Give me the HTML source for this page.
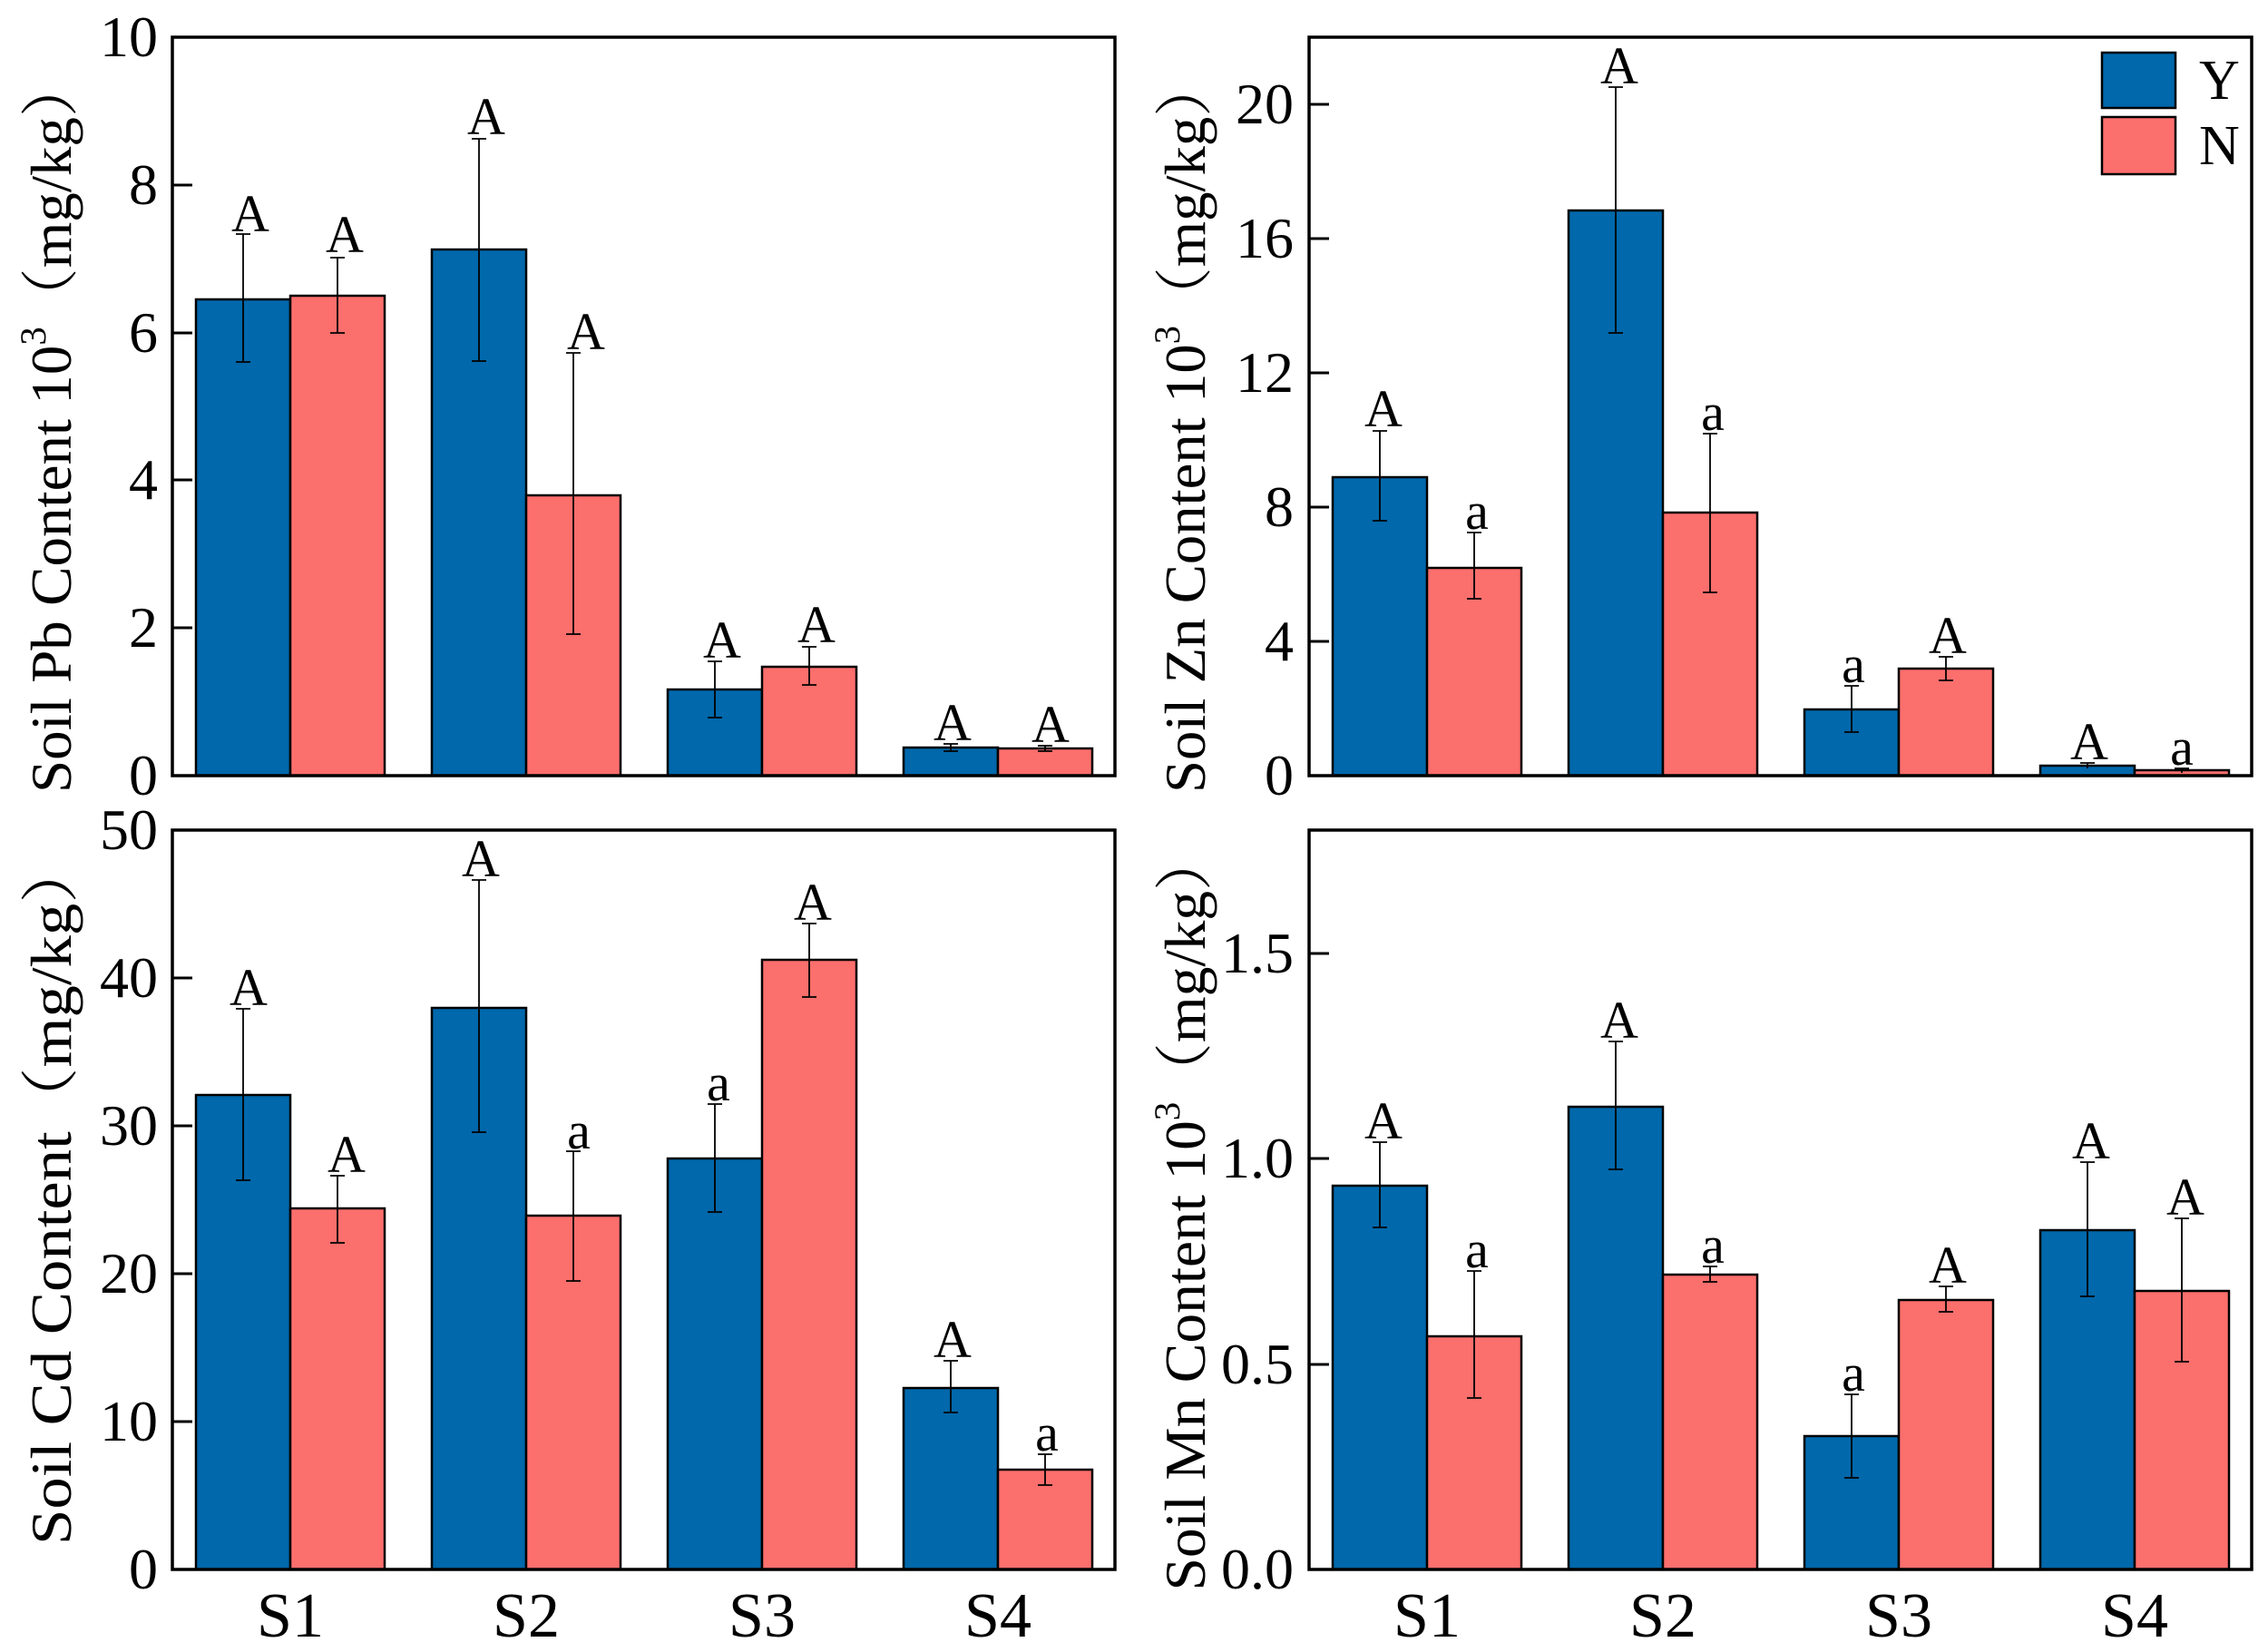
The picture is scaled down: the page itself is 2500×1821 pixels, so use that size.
<!DOCTYPE html>
<html><head><meta charset="utf-8"><style>
html,body{margin:0;padding:0;background:#fff}
svg{display:block}
text{font-family:"Liberation Serif","Noto Serif CJK SC",serif;fill:#000}
.b{fill:#0068AB;stroke:#000;stroke-width:2.5}
.r{fill:#FB6F6D;stroke:#000;stroke-width:2.5}
.e{stroke:#000;stroke-width:1.8;fill:none}
.ax{fill:none;stroke:#000;stroke-width:3.5}
.tk{stroke:#000;stroke-width:3}
.t{font-size:64px;text-anchor:end}
.l{font-size:58px;text-anchor:middle}
.x{font-size:70px;text-anchor:middle}
.yt{font-size:64px;text-anchor:middle}
</style></head><body>
<svg width="2500" height="1821" viewBox="0 0 2500 1821" xmlns="http://www.w3.org/2000/svg">
<!-- ===== TL Pb ===== -->
<g>
<rect class="b" x="216" y="330" width="104" height="525"/><rect class="r" x="320" y="326" width="104" height="529"/>
<rect class="b" x="476" y="275" width="104" height="580"/><rect class="r" x="580" y="546" width="104" height="309"/>
<rect class="b" x="736" y="760" width="104" height="95"/><rect class="r" x="840" y="735" width="104" height="120"/>
<rect class="b" x="996" y="824" width="104" height="31"/><rect class="r" x="1100" y="825" width="104" height="30"/>
<path class="e" d="M268 258V399M260 258H276M260 399H276 M372 284V367M364 284H380M364 367H380 M528 153V398M520 153H536M520 398H536 M632 389V699M624 389H640M624 699H640 M788 729V791M780 729H796M780 791H796 M892 713V755M884 713H900M884 755H900 M1048 820V828M1040 820H1056M1040 828H1056 M1152 822V828M1144 822H1160M1144 828H1160"/>
<text class="l" x="276" y="255">A</text><text class="l" x="380" y="278">A</text>
<text class="l" x="536" y="148">A</text><text class="l" x="646" y="385">A</text>
<text class="l" x="796" y="725">A</text><text class="l" x="900" y="708">A</text>
<text class="l" x="1050" y="816">A</text><text class="l" x="1158" y="818">A</text>
<rect class="ax" x="190" y="41" width="1039" height="814"/>
<path class="tk" d="M190 692H212M190 529H212M190 367H212M190 204H212"/>
<text class="t" x="174" y="876">0</text><text class="t" x="174" y="713">2</text><text class="t" x="174" y="550">4</text><text class="t" x="174" y="388">6</text><text class="t" x="174" y="225">8</text><text class="t" x="174" y="62">10</text>
<text class="yt" transform="translate(78,469) rotate(-90)" textLength="810" lengthAdjust="spacingAndGlyphs">Soil Pb Content 10<tspan font-size="40" dy="-28">3</tspan><tspan dy="28">（mg/kg）</tspan></text>
</g>
<!-- ===== TR Zn ===== -->
<g>
<rect class="b" x="1469" y="526" width="104" height="329"/><rect class="r" x="1573" y="626" width="104" height="229"/>
<rect class="b" x="1729" y="232" width="104" height="623"/><rect class="r" x="1833" y="565" width="104" height="290"/>
<rect class="b" x="1989" y="782" width="104" height="73"/><rect class="r" x="2093" y="737" width="104" height="118"/>
<rect class="b" x="2249" y="844" width="104" height="11"/><rect class="r" x="2353" y="849" width="104" height="6"/>
<path class="e" d="M1521 475V574M1513 475H1529M1513 574H1529 M1625 587V660M1617 587H1633M1617 660H1633 M1781 96V367M1773 96H1789M1773 367H1789 M1885 478V653M1877 478H1893M1877 653H1893 M2041 756V807M2033 756H2049M2033 807H2049 M2145 724V750M2137 724H2153M2137 750H2153 M2301 841V847M2293 841H2309 M2405 847V852M2397 847H2413"/>
<text class="l" x="1525" y="470">A</text><text class="l" x="1628" y="583">a</text>
<text class="l" x="1785" y="92">A</text><text class="l" x="1888" y="474">a</text>
<text class="l" x="2043" y="752">a</text><text class="l" x="2147" y="720">A</text>
<text class="l" x="2303" y="837">A</text><text class="l" x="2405" y="843">a</text>
<rect class="ax" x="1443" y="41" width="1039" height="814"/>
<path class="tk" d="M1443 707H1465M1443 559H1465M1443 411H1465M1443 263H1465M1443 115H1465"/>
<text class="t" x="1426" y="876">0</text><text class="t" x="1426" y="728">4</text><text class="t" x="1426" y="580">8</text><text class="t" x="1426" y="432">12</text><text class="t" x="1426" y="284">16</text><text class="t" x="1426" y="136">20</text>
<rect class="b" x="2317" y="58" width="81" height="61"/><rect class="r" x="2317" y="129" width="81" height="63"/>
<text x="2424" y="109" font-size="62">Y</text><text x="2424" y="181" font-size="62">N</text>
<text class="yt" transform="translate(1328,469) rotate(-90)" textLength="810" lengthAdjust="spacingAndGlyphs">Soil Zn Content 10<tspan font-size="40" dy="-28">3</tspan><tspan dy="28">（mg/kg）</tspan></text>
</g>
<!-- ===== BL Cd ===== -->
<g>
<rect class="b" x="216" y="1207" width="104" height="523"/><rect class="r" x="320" y="1332" width="104" height="398"/>
<rect class="b" x="476" y="1111" width="104" height="619"/><rect class="r" x="580" y="1340" width="104" height="390"/>
<rect class="b" x="736" y="1277" width="104" height="453"/><rect class="r" x="840" y="1058" width="104" height="672"/>
<rect class="b" x="996" y="1530" width="104" height="200"/><rect class="r" x="1100" y="1620" width="104" height="110"/>
<path class="e" d="M268 1112V1301M260 1112H276M260 1301H276 M372 1296V1370M364 1296H380M364 1370H380 M528 970V1248M520 970H536M520 1248H536 M632 1269V1412M624 1269H640M624 1412H640 M788 1217V1336M780 1217H796M780 1336H796 M892 1018V1099M884 1018H900M884 1099H900 M1048 1500V1557M1040 1500H1056M1040 1557H1056 M1152 1603V1637M1144 1603H1160M1144 1637H1160"/>
<text class="l" x="274" y="1108">A</text><text class="l" x="382" y="1292">A</text>
<text class="l" x="530" y="966">A</text><text class="l" x="638" y="1266">a</text>
<text class="l" x="792" y="1213">a</text><text class="l" x="896" y="1014">A</text>
<text class="l" x="1050" y="1496">A</text><text class="l" x="1154" y="1599">a</text>
<rect class="ax" x="190" y="915" width="1039" height="815"/>
<path class="tk" d="M190 1567H212M190 1404H212M190 1241H212M190 1078H212"/>
<text class="t" x="174" y="1751">0</text><text class="t" x="174" y="1588">10</text><text class="t" x="174" y="1425">20</text><text class="t" x="174" y="1262">30</text><text class="t" x="174" y="1099">40</text><text class="t" x="174" y="936">50</text>
<text class="yt" transform="translate(78,1314) rotate(-90)" textLength="778" lengthAdjust="spacingAndGlyphs">Soil Cd Content（mg/kg）</text>
<text class="x" x="320" y="1804">S1</text><text class="x" x="580" y="1804">S2</text><text class="x" x="840" y="1804">S3</text><text class="x" x="1100" y="1804">S4</text>
</g>
<!-- ===== BR Mn ===== -->
<g>
<rect class="b" x="1469" y="1307" width="104" height="423"/><rect class="r" x="1573" y="1473" width="104" height="257"/>
<rect class="b" x="1729" y="1220" width="104" height="510"/><rect class="r" x="1833" y="1405" width="104" height="325"/>
<rect class="b" x="1989" y="1583" width="104" height="147"/><rect class="r" x="2093" y="1433" width="104" height="297"/>
<rect class="b" x="2249" y="1356" width="104" height="374"/><rect class="r" x="2353" y="1423" width="104" height="307"/>
<path class="e" d="M1521 1259V1353M1513 1259H1529M1513 1353H1529 M1625 1401V1541M1617 1401H1633M1617 1541H1633 M1781 1148V1289M1773 1148H1789M1773 1289H1789 M1885 1396V1413M1877 1396H1893M1877 1413H1893 M2041 1537V1629M2033 1537H2049M2033 1629H2049 M2145 1418V1446M2137 1418H2153M2137 1446H2153 M2301 1281V1429M2293 1281H2309M2293 1429H2309 M2405 1343V1501M2397 1343H2413M2397 1501H2413"/>
<text class="l" x="1525" y="1255">A</text><text class="l" x="1628" y="1397">a</text>
<text class="l" x="1785" y="1144">A</text><text class="l" x="1888" y="1392">a</text>
<text class="l" x="2043" y="1533">a</text><text class="l" x="2147" y="1414">A</text>
<text class="l" x="2305" y="1277">A</text><text class="l" x="2409" y="1339">A</text>
<rect class="ax" x="1443" y="915" width="1039" height="815"/>
<path class="tk" d="M1443 1504H1465M1443 1277H1465M1443 1051H1465"/>
<text class="t" x="1426" y="1751">0.0</text><text class="t" x="1426" y="1525">0.5</text><text class="t" x="1426" y="1298">1.0</text><text class="t" x="1426" y="1072">1.5</text>
<text class="yt" transform="translate(1328,1335) rotate(-90)" textLength="837" lengthAdjust="spacingAndGlyphs">Soil Mn Content 10<tspan font-size="40" dy="-28">3</tspan><tspan dy="28">（mg/kg）</tspan></text>
<text class="x" x="1573" y="1804">S1</text><text class="x" x="1833" y="1804">S2</text><text class="x" x="2093" y="1804">S3</text><text class="x" x="2353" y="1804">S4</text>
</g>
</svg>
</body></html>
